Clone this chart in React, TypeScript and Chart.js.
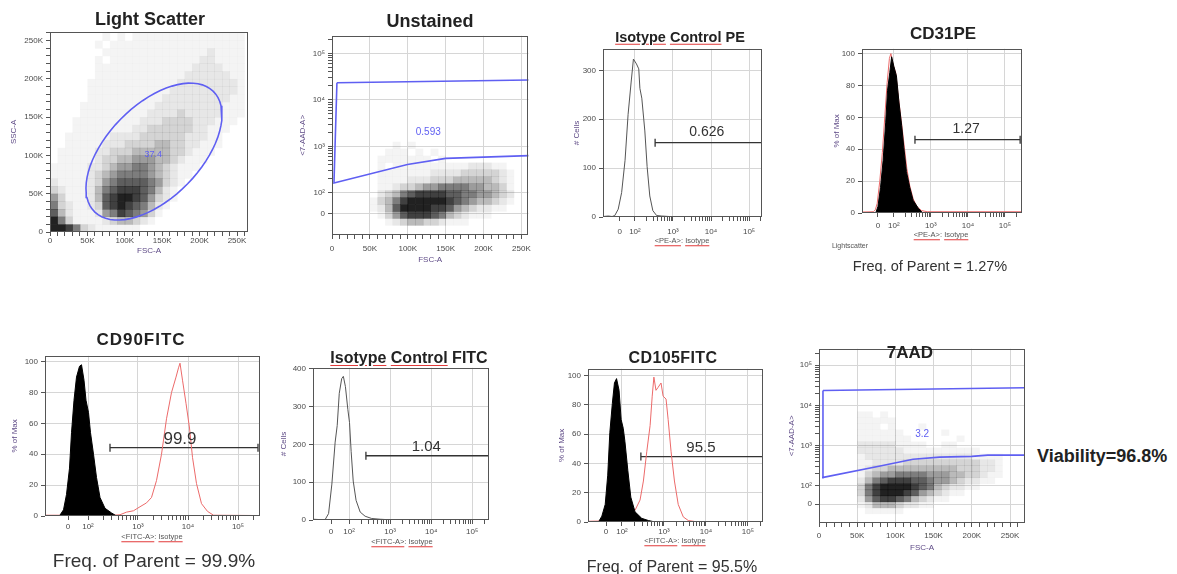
import React, { useEffect, useRef } from "react";
import { Chart, registerables } from "chart.js";
Chart.register(...registerables);

const FONT = '"Liberation Sans", Arial, Helvetica, sans-serif';

// ---------------- DATA ----------------
// Light Scatter: event density (0-9), 10K x 10K cells, rows top (250-260K) -> bottom (0-10K)
const lightScatterRows = [
  "00000001010111111111111111",
  "00000010111111111111111111",
  "00000001111111111111121111",
  "00000010111111111111221111",
  "00000011111111111112222111",
  "00000011111111111122222211",
  "00000111111111111222222221",
  "00000111111111112222222221",
  "00000111111111122222222211",
  "00001111111111222222222111",
  "00001111111112222322222111",
  "00011111111122233332221110",
  "00011111111223333332211100",
  "00111111222233333322211000",
  "00111112223333443322111000",
  "01111122333444443321110000",
  "01111123344555443211100000",
  "11111223455665432111000000",
  "11111234566665432110000000",
  "21111235677776532100000000",
  "32111246788876421000000000",
  "53111247899875321000000000",
  "63211237898764210000000000",
  "74211125687653100000000000",
  "96311112344321000000000000",
  "99863211111100000000000000",
];
const lsGateCenter = [139, 105];
const lsGateMajor = [79, 79];
const lsGateMinor = [45, -42];
const lsGateValue = "37.4";
const lsGateValueAt = [138, 101];
const fscTicksK = [0, 50, 100, 150, 200, 250];

// Unstained: density, x cells 10K from 50K, y cells 0.15 decade from 1.3, rows top -> bottom
const unstainedRows = [
  "00010100000000000000",
  "00111010100000000000",
  "01111111010000000000",
  "01011111111112221100",
  "01111111222233333210",
  "01111222333444443210",
  "01123345566665544310",
  "02346788887766554320",
  "13468999998765443210",
  "12479999887543221100",
  "01357888764321110000",
  "00123443321110000000",
];
const unstainedGateX = [6.5, 262, 262, 150, 99.5, 2.6, 6.5];
const unstainedGateY = [4.37, 4.43, 2.8, 2.74, 2.61, 2.21, 4.37];
const unstainedGateValue = "0.593";
const unstainedGateValueAt = [127, 3.31];

// 7AAD: density, x cells 10K from 40K, y cells 0.15 decade from 1.3, rows top -> bottom
const aadRows = [
  "011010000000000000000",
  "011111000000000000000",
  "011101000100000000000",
  "011111100000100000000",
  "011111110000001000000",
  "022222111100110000000",
  "022222211111111110000",
  "012222222222222211110",
  "011222233333333332210",
  "012334444444443332210",
  "013455666655544332110",
  "024678887765543221100",
  "036899998764322110000",
  "036899987543211000000",
  "025788764321100000000",
  "012444322110000000000",
  "001111100000000000000",
];
const aadGateX = [5.2, 274, 274, 221, 200, 158, 123, 80, 4, 5.2];
const aadGateY = [4.37, 4.44, 2.76, 2.76, 2.73, 2.71, 2.66, 2.49, 2.2, 4.37];
const aadGateValue = "3.2";
const aadGateValueAt = [135, 3.27];

// Histograms (x in decades of fluorescence, y in # cells or % of max)
const isoPeX = [1.16, 1.3, 1.4, 1.47, 1.56, 1.65, 1.74, 1.82, 1.9, 1.96, 2.04, 2.1, 2.13, 2.18, 2.26, 2.32, 2.39, 2.47, 2.57, 2.7, 2.9, 3.1];
const isoPeY = [1, 2, 1, 3, 16, 50, 116, 210, 276, 323, 313, 303, 263, 243, 176, 103, 43, 13, 3, 2, 1, 0];
const isoPeGate = [2.53, 5.34, 152];
const isoPeValue = "0.626";
const isoPeValueAt = [3.89, 174];

const cd31BlackX = [1.51, 1.57, 1.64, 1.71, 1.78, 1.83, 1.89, 1.94, 2.0, 2.07, 2.14, 2.21, 2.27, 2.34, 2.43, 2.52, 2.66, 2.78];
const cd31BlackY = [0, 4, 16, 33, 57, 77, 88, 98, 92, 86, 69, 55, 41, 26, 16, 8, 3, 0];
const cd31RedX = [1.14, 1.45, 1.5, 1.55, 1.62, 1.69, 1.76, 1.82, 1.88, 1.92, 1.98, 2.05, 2.12, 2.2, 2.27, 2.35, 2.43, 2.52, 2.62, 2.75, 2.9, 5.46];
const cd31RedY = [0.6, 0.8, 2, 6, 20, 38, 62, 82, 97, 100, 93, 88, 73, 58, 44, 28, 17, 9, 4, 1.5, 0.8, 0.8];
const cd31Gate = [2.57, 5.41, 46];
const cd31Value = "1.27";
const cd31ValueAt = [3.95, 52.8];

const cd90BlackX = [1.44, 1.51, 1.57, 1.63, 1.67, 1.72, 1.77, 1.83, 1.87, 1.92, 1.96, 2.01, 2.05, 2.11, 2.17, 2.24, 2.34, 2.47, 2.57];
const cd90BlackY = [0.6, 4, 14, 31, 54, 75, 90, 97, 98, 88, 75, 67, 54, 40, 25, 12, 5, 2, 0];
const cd90RedX = [1.14, 2.5, 2.64, 2.77, 2.91, 3.04, 3.17, 3.27, 3.37, 3.47, 3.57, 3.67, 3.76, 3.81, 3.84, 3.89, 3.96, 4.03, 4.09, 4.17, 4.27, 4.39, 4.51, 5.44];
const cd90RedY = [0.5, 0.5, 0.8, 2.5, 3.4, 6, 8.5, 12, 23, 40, 63, 80, 90, 96, 99, 88, 73, 57, 38, 21, 8, 3, 0.5, 0.3];
const cd90Gate = [2.44, 5.4, 44.3];
const cd90Value = "99.9";
const cd90ValueAt = [3.84, 50];

const isoFitcX = [1.12, 1.3, 1.41, 1.5, 1.58, 1.66, 1.71, 1.76, 1.82, 1.86, 1.91, 1.97, 2.01, 2.05, 2.1, 2.17, 2.27, 2.39, 2.55, 2.76, 3.0];
const isoFitcY = [2, 1, 0, 17, 95, 206, 250, 335, 374, 380, 353, 292, 258, 181, 103, 52, 21, 10, 4, 2, 0.5];
const isoFitcGate = [2.41, 5.41, 170];
const isoFitcValue = "1.04";
const isoFitcValueAt = [3.88, 193];

const cd105BlackX = [1.44, 1.52, 1.6, 1.66, 1.71, 1.77, 1.82, 1.87, 1.93, 1.98, 2.03, 2.07, 2.14, 2.21, 2.31, 2.47, 2.63, 2.79];
const cd105BlackY = [0, 4, 12, 32, 61, 81, 95, 98, 90, 70, 64, 55, 35, 17, 7, 2.5, 1, 0];
const cd105RedX = [1.19, 1.99, 2.15, 2.31, 2.43, 2.51, 2.59, 2.67, 2.72, 2.76, 2.81, 2.86, 2.93, 2.98, 3.05, 3.1, 3.17, 3.25, 3.34, 3.46, 3.58, 3.74, 5.36];
const cd105RedY = [0.5, 1, 3.5, 8, 15, 28, 48, 66, 86, 99, 90, 92, 95, 86, 84, 70, 48, 28, 12, 3.5, 1, 0.3, 0.3];
const cd105Gate = [2.45, 5.36, 44.7];
const cd105Value = "95.5";
const cd105ValueAt = [3.88, 50.7];

const cellsTicks = [0, 100, 200, 300, 400];
const pctTicks = [0, 20, 40, 60, 80, 100];

// ---------------- HELPERS ----------------
const PT = 4;
const PR = 6;
const BLUE = "#5f5ff2";
const RED = "#ec6a6a";
const ALPHA = [0, 0.045, 0.095, 0.17, 0.27, 0.39, 0.51, 0.63, 0.75, 0.87];
const SUP: Record<number, string> = { 2: "10²", 3: "10³", 4: "10⁴", 5: "10⁵" };

const pts = (xs: number[], ys: number[]) => xs.map((x, i) => ({ x, y: ys[i] }));
const near = (a: number, b: number) => Math.abs(a - b) < 1e-6;

function stepTicks(max: number, step: number) {
  const t: number[] = [];
  for (let v = 0; v <= max + 1e-9; v += step) t.push(v);
  return t;
}
function logTicks(max: number, zero: number) {
  const t: number[] = [zero];
  for (let n = 2; n <= 5; n++)
    for (let k = 1; k <= 9; k++) {
      const v = n + Math.log10(k);
      if (v <= max + 1e-9) t.push(v);
    }
  return t;
}
const kFmt = (v: number) => (fscTicksK.some((m) => near(m, v)) ? (v === 0 ? "0" : `${v}K`) : "");
const logFmt = (zero: number) => (v: number) => {
  if (near(v, zero)) return "0";
  const r = Math.round(v);
  if (near(v, r) && SUP[r]) return SUP[r];
  return "";
};
const listFmt = (list: number[]) => (v: number) => (list.some((m) => near(m, v)) ? String(v) : "");

type Axis = {
  min: number; max: number; ticks: number[]; fmt: (v: number) => string;
  grid: number[]; pad: number; size: number; title?: string;
};

function axisOpts(a: Axis, isX: boolean) {
  return {
    type: "linear",
    position: isX ? "bottom" : "left",
    min: a.min,
    max: a.max,
    afterBuildTicks: (s: any) => {
      s.ticks = a.ticks.map((v) => ({ value: v }));
    },
    afterFit: (s: any) => {
      if (isX) s.height = a.size;
      else s.width = a.size;
    },
    ticks: {
      autoSkip: false, maxRotation: 0, minRotation: 0, padding: a.pad,
      color: "#4a4a4a", font: { family: FONT, size: 8 },
      callback: (v: any) => a.fmt(Number(v)),
    },
    grid: {
      color: (c: any) => (c.tick && a.grid.some((g) => near(g, c.tick.value)) ? "#d6d6d6" : "rgba(0,0,0,0)"),
      tickColor: "#555", tickLength: 4, lineWidth: 1, drawTicks: true,
    },
    border: { display: false },
    title: a.title
      ? { display: true, text: a.title, color: "#5e4a86", font: { family: FONT, size: 8 }, padding: { top: 0, bottom: 0 } }
      : { display: false },
  };
}

type Heat = { rows: string[]; x0: number; dx: number; y0: number; dy: number };
type Lbl = { text: string; x: number; y: number; color: string; size: number };
type Spec = { box: number[]; x: Axis; y: Axis; datasets: any[]; heat?: Heat; labels: Lbl[] };

function buildConfig(spec: Spec): any {
  const heatPlugin = {
    id: "heatcells",
    beforeDatasetsDraw(chart: any) {
      const h = spec.heat;
      if (!h) return;
      const { ctx, chartArea: a } = chart;
      const xs = chart.scales.x, ys = chart.scales.y;
      ctx.save();
      ctx.beginPath();
      ctx.rect(a.left, a.top, a.right - a.left, a.bottom - a.top);
      ctx.clip();
      const n = h.rows.length;
      h.rows.forEach((row, ri) => {
        const yTop = h.y0 + (n - ri) * h.dy;
        const yBot = yTop - h.dy;
        for (let ci = 0; ci < row.length; ci++) {
          const d = Number(row[ci]);
          if (!d) continue;
          const xl = h.x0 + ci * h.dx;
          const p0 = xs.getPixelForValue(xl), p1 = xs.getPixelForValue(xl + h.dx);
          const q0 = ys.getPixelForValue(yTop), q1 = ys.getPixelForValue(yBot);
          ctx.fillStyle = `rgba(0,0,0,${ALPHA[d]})`;
          ctx.fillRect(p0, q0, p1 - p0 + 0.4, q1 - q0 + 0.4);
        }
      });
      ctx.restore();
    },
  };
  const labelPlugin = {
    id: "gatelabels",
    afterDatasetsDraw(chart: any) {
      const { ctx } = chart;
      spec.labels.forEach((l) => {
        ctx.save();
        ctx.fillStyle = l.color;
        ctx.font = `${l.size}px ${FONT}`;
        ctx.textAlign = "center";
        ctx.textBaseline = "middle";
        ctx.fillText(l.text, chart.scales.x.getPixelForValue(l.x), chart.scales.y.getPixelForValue(l.y));
        ctx.restore();
      });
    },
  };
  const framePlugin = {
    id: "frame",
    afterDraw(chart: any) {
      const { ctx, chartArea: a } = chart;
      ctx.save();
      ctx.strokeStyle = "#555";
      ctx.lineWidth = 1;
      ctx.strokeRect(Math.round(a.left) + 0.5, Math.round(a.top) + 0.5, Math.round(a.right - a.left) - 1, Math.round(a.bottom - a.top) - 1);
      ctx.restore();
    },
  };
  return {
    type: "line",
    data: { datasets: spec.datasets },
    options: {
      responsive: false,
      animation: false,
      events: [],
      layout: { padding: { left: 0, top: PT, right: PR, bottom: 0 } },
      plugins: { legend: { display: false }, tooltip: { enabled: false }, title: { display: false } },
      elements: { point: { radius: 0 }, line: { tension: 0 } },
      scales: { x: axisOpts(spec.x, true), y: axisOpts(spec.y, false) },
    },
    plugins: [heatPlugin, labelPlugin, framePlugin],
  };
}

const lineDs = (data: any[], color: string, fill = false, width = 1) => ({
  data, borderColor: color, borderWidth: width, pointRadius: 0,
  fill: fill ? "origin" : false, backgroundColor: fill ? color : "transparent",
});
const gateDs = (g: number[]) => ({
  data: [{ x: g[0], y: g[2] }, { x: g[1], y: g[2] }],
  borderColor: "#333", borderWidth: 1.3, pointStyle: "line", pointRotation: 90,
  pointRadius: 4, pointBorderWidth: 1.3, pointBorderColor: "#333", fill: false,
});
const ellipsePts = () =>
  Array.from({ length: 73 }, (_, i) => {
    const t = (i / 72) * Math.PI * 2;
    return {
      x: lsGateCenter[0] + lsGateMajor[0] * Math.cos(t) + lsGateMinor[0] * Math.sin(t),
      y: lsGateCenter[1] + lsGateMajor[1] * Math.cos(t) + lsGateMinor[1] * Math.sin(t),
    };
  });

// ---------------- PANELS ----------------
const specs: Spec[] = [
  {
    box: [50, 28, 248, 232],
    x: { min: 0, max: 264.7, ticks: stepTicks(260, 10), fmt: kFmt, grid: [], pad: 0, size: 24, title: "FSC-A" },
    y: { min: 0, max: 261.5, ticks: stepTicks(260, 10), fmt: kFmt, grid: [], pad: 3, size: 41, title: "SSC-A" },
    heat: { rows: lightScatterRows, x0: 0, dx: 10, y0: 0, dy: 10 },
    datasets: [lineDs(ellipsePts(), BLUE, false, 1.6)],
    labels: [{ text: lsGateValue, x: lsGateValueAt[0], y: lsGateValueAt[1], color: BLUE, size: 9 }],
  },
  {
    box: [332, 32, 530, 235],
    x: { min: 0, max: 259.2, ticks: stepTicks(250, 10), fmt: kFmt, grid: [50, 100, 150, 200, 250], pad: 5, size: 30, title: "FSC-A" },
    y: { min: 1.09, max: 5.38, ticks: logTicks(5.38, 1.556), fmt: logFmt(1.556), grid: [1.556, 2, 3, 4, 5], pad: 3, size: 34, title: "<7-AAD-A>" },
    heat: { rows: unstainedRows, x0: 50, dx: 10, y0: 1.3, dy: 0.15 },
    datasets: [lineDs(pts(unstainedGateX, unstainedGateY), BLUE, false, 1.6)],
    labels: [{ text: unstainedGateValue, x: unstainedGateValueAt[0], y: unstainedGateValueAt[1], color: BLUE, size: 10 }],
  },
  {
    box: [603, 45, 762, 217],
    x: { min: 1.16, max: 5.34, ticks: logTicks(5.34, 1.6), fmt: logFmt(1.6), grid: [2, 3, 4, 5], pad: 6, size: 24 },
    y: { min: 0, max: 344, ticks: cellsTicks.slice(0, 4), fmt: listFmt(cellsTicks), grid: [100, 200, 300], pad: 3, size: 31, title: "# Cells" },
    datasets: [lineDs(pts(isoPeX, isoPeY), "#555"), gateDs(isoPeGate)],
    labels: [{ text: isoPeValue, x: isoPeValueAt[0], y: isoPeValueAt[1], color: "#333", size: 14 }],
  },
  {
    box: [862, 45, 1022, 213],
    x: { min: 1.14, max: 5.46, ticks: logTicks(5.46, 1.57), fmt: logFmt(1.57), grid: [2, 3, 4, 5], pad: 4, size: 22 },
    y: { min: 0, max: 103, ticks: pctTicks, fmt: listFmt(pctTicks), grid: [20, 40, 60, 80, 100], pad: 3, size: 30, title: "% of Max" },
    datasets: [lineDs(pts(cd31BlackX, cd31BlackY), "#000", true), lineDs(pts(cd31RedX, cd31RedY), RED), gateDs(cd31Gate)],
    labels: [{ text: cd31Value, x: cd31ValueAt[0], y: cd31ValueAt[1], color: "#333", size: 14 }],
  },
  {
    box: [45, 352, 260, 516],
    x: { min: 1.14, max: 5.44, ticks: logTicks(5.44, 1.6), fmt: logFmt(1.6), grid: [2, 3, 4, 5], pad: 2, size: 22 },
    y: { min: 0, max: 103.8, ticks: pctTicks, fmt: listFmt(pctTicks), grid: [20, 40, 60, 80, 100], pad: 3, size: 35, title: "% of Max" },
    datasets: [lineDs(pts(cd90BlackX, cd90BlackY), "#000", true), lineDs(pts(cd90RedX, cd90RedY), RED), gateDs(cd90Gate)],
    labels: [{ text: cd90Value, x: cd90ValueAt[0], y: cd90ValueAt[1], color: "#333", size: 17 }],
  },
  {
    box: [313, 364, 489, 520],
    x: { min: 1.12, max: 5.41, ticks: logTicks(5.41, 1.56), fmt: logFmt(1.56), grid: [2, 3, 4, 5], pad: 3, size: 22 },
    y: { min: 0, max: 402.6, ticks: cellsTicks, fmt: listFmt(cellsTicks), grid: [100, 200, 300, 400], pad: 3, size: 34, title: "# Cells" },
    datasets: [lineDs(pts(isoFitcX, isoFitcY), "#555"), gateDs(isoFitcGate)],
    labels: [{ text: isoFitcValue, x: isoFitcValueAt[0], y: isoFitcValueAt[1], color: "#333", size: 15 }],
  },
  {
    box: [588, 365, 763, 522],
    x: { min: 1.19, max: 5.36, ticks: logTicks(5.36, 1.62), fmt: logFmt(1.62), grid: [2, 3, 4, 5], pad: 1, size: 22 },
    y: { min: 0, max: 104.7, ticks: pctTicks, fmt: listFmt(pctTicks), grid: [20, 40, 60, 80, 100], pad: 3, size: 31, title: "% of Max" },
    datasets: [lineDs(pts(cd105BlackX, cd105BlackY), "#000", true), lineDs(pts(cd105RedX, cd105RedY), RED), gateDs(cd105Gate)],
    labels: [{ text: cd105Value, x: cd105ValueAt[0], y: cd105ValueAt[1], color: "#333", size: 15 }],
  },
  {
    box: [819, 345, 1025, 523],
    x: { min: 0, max: 269.6, ticks: stepTicks(260, 10), fmt: kFmt, grid: [50, 100, 150, 200, 250], pad: 4, size: 30, title: "FSC-A" },
    y: { min: 1.07, max: 5.41, ticks: logTicks(5.41, 1.54), fmt: logFmt(1.54), grid: [1.54, 2, 3, 4, 5], pad: 3, size: 32, title: "<7-AAD-A>" },
    heat: { rows: aadRows, x0: 40, dx: 10, y0: 1.3, dy: 0.15 },
    datasets: [lineDs(pts(aadGateX, aadGateY), BLUE, false, 1.6)],
    labels: [{ text: aadGateValue, x: aadGateValueAt[0], y: aadGateValueAt[1], color: BLUE, size: 10 }],
  },
];

function ChartPanel({ spec }: { spec: Spec }) {
  const ref = useRef<HTMLCanvasElement>(null);
  const [l, t, r, b] = spec.box;
  const w = spec.y.size + (r - l) + PR;
  const h = PT + (b - t) + spec.x.size;
  useEffect(() => {
    const chart = new Chart(ref.current as HTMLCanvasElement, buildConfig(spec));
    return () => chart.destroy();
  }, []);
  return (
    <canvas
      ref={ref}
      width={w}
      height={h}
      style={{ position: "absolute", left: l - spec.y.size, top: t - PT, width: w, height: h }}
    />
  );
}

function Txt(props: { x: number; y: number; size: number; bold?: boolean; left?: boolean; color?: string; ls?: number; children: any }) {
  return (
    <div
      style={{
        position: "absolute", left: props.x, top: props.y,
        transform: props.left ? "translate(0,-50%)" : "translate(-50%,-50%)",
        whiteSpace: "nowrap", fontFamily: FONT, fontSize: props.size,
        fontWeight: props.bold ? 700 : 400, lineHeight: 1, color: props.color || "#222",
        letterSpacing: props.ls ? `${props.ls}px` : undefined,
      }}
    >
      {props.children}
    </div>
  );
}
const U = ({ children }: { children: any }) => (
  <span style={{ textDecoration: "underline", textDecorationColor: "#e23b3b", textUnderlineOffset: "2px" }}>{children}</span>
);

export default function App() {
  return (
    <div style={{ position: "absolute", left: 0, top: 0, width: 1177, height: 574, background: "#fff", overflow: "hidden" }}>
      {specs.map((s, i) => (
        <ChartPanel key={i} spec={s} />
      ))}
      <Txt x={150} y={19} size={18} bold>Light Scatter</Txt>
      <Txt x={430} y={21} size={18} bold>Unstained</Txt>
      <Txt x={680} y={37} size={14.5} bold><U>Isotype</U> <U>Control</U> PE</Txt>
      <Txt x={943} y={33} size={17} bold>CD31PE</Txt>
      <Txt x={141} y={339} size={17} bold ls={1}>CD90FITC</Txt>
      <Txt x={409} y={358} size={16} bold><U>Isotype</U> <U>Control</U> FITC</Txt>
      <Txt x={673} y={358} size={16} bold ls={0.4}>CD105FITC</Txt>
      <Txt x={910} y={352} size={17} bold>7AAD</Txt>

      <Txt x={682} y={241} size={7.5} color="#555"><U>&lt;PE-A&gt;</U>: <U>Isotype</U></Txt>
      <Txt x={941} y={235} size={7.5} color="#555"><U>&lt;PE-A&gt;</U>: <U>Isotype</U></Txt>
      <Txt x={850} y={245} size={7} color="#555">Lightscatter</Txt>
      <Txt x={930} y={266} size={14.5} color="#333">Freq. of Parent = 1.27%</Txt>

      <Txt x={152} y={537} size={7.5} color="#555"><U>&lt;FITC-A&gt;</U>: <U>Isotype</U></Txt>
      <Txt x={154} y={560} size={19} color="#333">Freq. of Parent = 99.9%</Txt>
      <Txt x={402} y={542} size={7.5} color="#555"><U>&lt;FITC-A&gt;</U>: <U>Isotype</U></Txt>
      <Txt x={675} y={541} size={7.5} color="#555"><U>&lt;FITC-A&gt;</U>: <U>Isotype</U></Txt>
      <Txt x={672} y={567} size={16} color="#333">Freq. of Parent = 95.5%</Txt>

      <Txt x={1037} y={456} size={18} bold left color="#222">Viability=96.8%</Txt>
    </div>
  );
}
